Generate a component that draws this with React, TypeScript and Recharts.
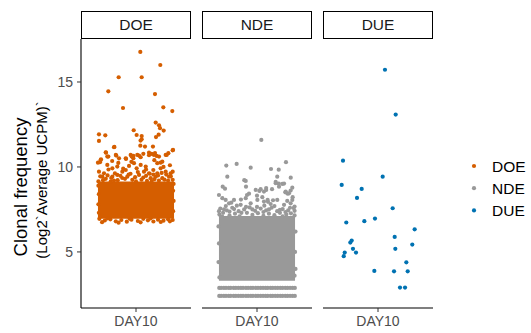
import React from "react";
import { ScatterChart, Scatter, XAxis, YAxis, ReferenceArea } from "recharts";

const timepoints = ["DAY10"];
const groups = ["DOE", "NDE", "DUE"];
const groupColors = ["#D55E00", "#999999", "#0072B2"];
const yTicks = [5, 10, 15];

// [jitter, log2 UCPM]
const doePoints: [number, number][] = [
  [0.047, 16.77], [0.265, 16.0], [-0.189, 15.28], [0.062, 15.28], [-0.302, 14.45], [0.207, 14.29],
  [-0.142, 13.47], [0.298, 13.51], [0.396, 13.29],
  [-0.404, 11.92], [-0.335, 11.86], [-0.404, 11.53], [-0.025, 12.16], [0.007, 11.88], [0.062, 11.82],
  [0.062, 11.63], [0.215, 12.61], [0.251, 12.45], [0.262, 12.28], [0.302, 12.14], [0.247, 11.9], [0.218, 11.76],
  [-0.236, 11.18], [0.047, 11.25], [0.185, 11.2], [0.4, 10.98], [-0.33, 10.86],
  [-0.24, 11.16], [0.05, 11.55], [0.098, 11.2], [0.404, 11.0], [0.335, 10.71], [-0.327, 10.84], [-0.302, 10.61],
  [-0.22, 10.71], [-0.185, 10.51], [-0.385, 10.41], [-0.415, 10.25], [-0.112, 10.51], [-0.058, 10.71],
  [-0.029, 10.51], [0.014, 10.71], [0.051, 10.57], [0.142, 10.84], [0.196, 10.71], [0.251, 10.61],
  [0.287, 10.31], [0.232, 10.22], [-0.313, 10.12], [-0.258, 9.92], [-0.204, 10.02], [-0.149, 9.72],
  [-0.112, 9.82], [-0.076, 10.06], [-0.022, 10.22], [0.007, 9.92], [0.051, 10.12], [0.106, 10.02],
  [0.087, 9.72], [0.142, 9.63], [0.189, 9.82], [0.232, 9.63], [0.269, 9.92], [0.324, 9.72], [0.378, 9.63],
  [0.4, 9.72], [-0.404, 9.72], [-0.367, 9.43], [-0.349, 9.63], [-0.258, 9.43], [-0.204, 9.53], [-0.276, 9.14],
  [-0.095, 9.43], [-0.04, 9.24], [0.033, 9.53], [0.16, 9.34], [0.215, 9.43], [0.287, 9.34], [0.36, 9.43],
  [0.4, 9.24], [-0.382, 10.45], [-0.393, 10.28], [-0.313, 10.61], [-0.215, 10.67], [-0.193, 10.24],
  [-0.109, 10.47], [-0.047, 10.61], [-0.029, 10.65], [0.033, 10.67], [0.08, 10.77], [0.142, 10.69],
  [0.171, 10.77], [0.207, 10.82], [0.225, 10.65], [0.269, 10.25], [0.324, 10.71], [0.353, 10.81],
  [-0.33, 9.3], [-0.15, 9.35], [0.08, 9.38], [0.25, 9.2], [-0.2, 9.22], [0.12, 9.18], [-0.41, 9.15],
  [0.33, 9.55], [-0.06, 9.6], [0.19, 9.55],
  [-0.39, 9.45], [-0.31, 9.5], [-0.27, 9.35], [-0.23, 9.62], [-0.17, 9.48], [-0.12, 9.3], [-0.08, 9.55],
  [-0.01, 9.4], [0.02, 9.7], [0.06, 9.25], [0.11, 9.48], [0.15, 9.6], [0.2, 9.28], [0.24, 9.5], [0.28, 9.65],
  [0.31, 9.25], [0.35, 9.2], [0.38, 9.45], [-0.36, 9.22], [-0.24, 9.2], [0.0, 9.15], [0.17, 9.15],
  [-0.14, 9.9], [0.11, 9.85], [-0.3, 9.85], [0.3, 10.0], [-0.05, 10.3], [0.2, 10.4], [-0.26, 10.35], [0.37, 10.1],
  [-0.4, 6.95], [-0.34, 6.85], [-0.28, 6.92], [-0.22, 6.8], [-0.16, 6.88], [-0.1, 6.78], [-0.05, 6.9],
  [0.02, 6.82], [0.08, 6.95], [0.13, 6.86], [0.19, 6.79], [0.24, 6.9], [0.3, 6.84], [0.35, 6.93], [0.4, 6.88],
  [-0.37, 6.75], [-0.19, 6.72], [0.05, 6.74], [0.27, 6.76], [-0.31, 6.98], [0.16, 6.98], [0.37, 6.8], [-0.07, 6.96],
  [-0.405, 7.3], [-0.41, 7.8], [-0.405, 8.4], [-0.41, 8.9], [0.405, 7.4], [0.41, 8.0], [0.405, 8.6], [0.41, 9.0],
];
const doeCore = [6.95, 9.15];

const ndePoints: [number, number][] = [
  [0.047, 11.59], [-0.335, 10.08], [-0.222, 10.18], [-0.069, 9.96], [0.153, 9.88], [0.237, 9.84], [0.316, 10.28],
  [-0.324, 9.43], [-0.139, 9.22], [0.221, 9.43], [0.368, 9.37], [0.204, 9.12], [0.237, 9.02], [0.295, 9.02],
  [-0.374, 8.84], [-0.349, 8.72], [-0.12, 8.84], [-0.014, 8.65], [0.026, 8.59], [0.1, 8.65], [0.1, 8.76],
  [0.164, 8.69], [0.385, 8.78], [0.367, 8.61], [0.309, 8.51], [0.335, 8.43], [-0.087, 8.43], [-0.109, 8.35],
  [0, 8.31], [0.058, 8.22], [-0.175, 8.08], [0.116, 8.06], [0.175, 8.04], [0.389, 8.22], [0.385, 8.06],
  [-0.123, 9.18], [0.04, 8.69], [0.076, 8.55], [0.204, 9.04], [0.24, 8.84], [0.276, 9.0], [0.313, 8.55],
  [0.349, 8.45], [-0.415, 8.35], [-0.378, 8.16], [-0.342, 8.06], [-0.305, 7.86], [-0.251, 8.06], [-0.178, 7.77],
  [-0.123, 8.16], [-0.069, 7.86], [0.004, 8.06], [0.076, 7.96], [0.149, 7.82], [0.221, 8.06], [0.295, 7.77],
  [0.367, 7.86], [0.41, 7.67],
  [-0.4, 7.55], [-0.33, 7.45], [-0.27, 7.6], [-0.2, 7.4], [-0.14, 7.5], [-0.08, 7.62], [-0.02, 7.42], [0.04, 7.55],
  [0.1, 7.45], [0.16, 7.6], [0.22, 7.4], [0.28, 7.52], [0.34, 7.44], [0.4, 7.58], [-0.37, 7.3], [-0.24, 7.25],
  [-0.11, 7.3], [0.01, 7.28], [0.13, 7.25], [0.25, 7.3], [0.37, 7.27], [-0.3, 7.15], [-0.05, 7.18], [0.19, 7.16],
  [0.32, 7.2], [-0.41, 7.2],
  [-0.415, 7.4], [-0.36, 7.5], [-0.3, 7.38], [-0.25, 7.52], [-0.17, 7.3], [-0.12, 7.65], [-0.05, 7.5], [0.0, 7.65],
  [0.07, 7.35], [0.13, 7.5], [0.19, 7.7], [0.25, 7.48], [0.31, 7.35], [0.36, 7.6], [0.41, 7.42], [-0.34, 7.7],
  [-0.22, 7.72], [0.08, 7.72], [-0.38, 7.08], [-0.19, 7.1], [0.07, 7.12], [0.28, 7.1], [0.41, 7.15],
  [-0.28, 7.9], [0.12, 7.95], [0.33, 8.0],
  [-0.42, 6.5], [-0.415, 5.5], [-0.42, 4.4], [0.42, 6.2], [0.415, 5.0], [0.42, 4.0], [-0.41, 3.5], [0.41, 3.6],
];
const ndeCore = [3.3, 7.12];
const ndeFloorLevels = [2.88, 2.41];
const ndeFloorJitter = [
  -0.412, -0.391, -0.362, -0.338, -0.309, -0.287, -0.255, -0.231, -0.204, -0.176, -0.152, -0.121, -0.097, -0.068,
  -0.044, -0.013, 0.011, 0.039, 0.066, 0.094, 0.117, 0.148, 0.171, 0.199, 0.226, 0.254, 0.279, 0.308, 0.333,
  0.361, 0.388, 0.413,
];

const duePoints: [number, number][] = [
  [0.076, 15.72], [0.193, 13.08], [-0.382, 10.37], [0.051, 9.43], [-0.396, 8.94], [-0.178, 8.71], [-0.229, 8.18],
  [0.16, 7.57], [-0.033, 6.96], [-0.149, 6.81], [-0.346, 6.73], [0.4, 6.33], [0.182, 5.88], [-0.287, 5.67],
  [-0.302, 5.55], [0.374, 5.43], [-0.273, 5.18], [0.189, 5.18], [-0.24, 4.96], [-0.363, 4.96], [-0.374, 4.75],
  [0.309, 4.39], [-0.04, 3.88], [0.175, 3.86], [0.324, 3.86], [0.24, 2.9], [0.295, 2.9],
];

const FONT = "'Liberation Sans', Arial, Helvetica, sans-serif";
const Y_DOMAIN = [1.7, 17.53];

const dot = (color: string) => (p: any) => <circle cx={p.cx} cy={p.cy} r={2.1} fill={color} />;

const YTitle = () => (
  <g>
    <text transform="translate(20,187) rotate(-90)" textAnchor="middle" dominantBaseline="central" fontSize={18.5} fill="#000">
      Clonal frequency
    </text>
    <text transform="translate(41,180) rotate(-90)" textAnchor="middle" dominantBaseline="central" fontSize={15} fill="#000">
      (Log2`Average UCPM)`
    </text>
  </g>
);

const Panel: React.FC<{ idx: number; points: [number, number][]; core?: number[]; left: number; showY?: boolean }> = ({
  idx,
  points,
  core,
  left,
  showY,
}) => {
  const color = groupColors[idx];
  const data = points.map(([j, v]) => ({ x: 1 + j, y: v }));
  const floor =
    idx === 1 ? ndeFloorLevels.flatMap((lv) => ndeFloorJitter.map((j) => ({ x: 1 + j, y: lv }))) : [];
  return (
    <div style={{ position: "absolute", left, top: 0 }}>
      <ScatterChart
        width={showY ? 192 : 112}
        height={333}
        margin={{ top: 39, right: 1, bottom: 0, left: showY ? 0 : 1 }}
      >
        <XAxis
          type="number"
          dataKey="x"
          domain={[0.4, 1.6]}
          allowDataOverflow
          ticks={[1]}
          tickFormatter={(v: number) => timepoints[v - 1]}
          height={25}
          tickSize={4}
          tickMargin={4}
          axisLine={{ stroke: "#000", strokeWidth: 1.1 }}
          tickLine={{ stroke: "#333" }}
          tick={{ fill: "#4D4D4D", fontSize: 14 }}
        />
        <YAxis
          type="number"
          dataKey="y"
          domain={Y_DOMAIN}
          allowDataOverflow
          ticks={yTicks}
          hide={!showY}
          width={81}
          tickSize={4}
          tickMargin={4}
          axisLine={{ stroke: "#000", strokeWidth: 1.1 }}
          tickLine={{ stroke: "#333" }}
          tick={{ fill: "#4D4D4D", fontSize: 14 }}
          label={showY ? { content: () => <YTitle /> } : undefined}
        />
        {core && (
          <ReferenceArea x1={0.585} x2={1.415} y1={core[0]} y2={core[1]} fill={color} fillOpacity={1} stroke="none" />
        )}
        {idx === 1 && <Scatter data={floor} isAnimationActive={false} shape={dot(color)} />}
        <Scatter data={data} isAnimationActive={false} shape={dot(color)} />
      </ScatterChart>
    </div>
  );
};

const stripLefts = [81, 202, 323];

export default function App() {
  return (
    <div style={{ position: "fixed", left: 0, top: 0, width: 531, height: 333, background: "#fff", fontFamily: FONT }}>
      <Panel idx={0} points={doePoints} core={doeCore} left={0} showY />
      <Panel idx={1} points={ndePoints} core={ndeCore} left={201} />
      <Panel idx={2} points={duePoints} left={322} />
      {groups.map((g, i) => (
        <div
          key={g}
          style={{
            position: "absolute",
            left: stripLefts[i],
            top: 11,
            width: 110,
            height: 28,
            boxSizing: "border-box",
            border: "1.2px solid #000",
            display: "flex",
            alignItems: "center",
            justifyContent: "center",
            fontSize: 15.5,
            color: "#1a1a1a",
          }}
        >
          {g}
        </div>
      ))}
      <svg style={{ position: "absolute", left: 460, top: 150 }} width={71} height={75}>
        {groups.map((g, i) => (
          <g key={g}>
            <circle cx={14} cy={16 + i * 22.2} r={2.1} fill={groupColors[i]} />
            <text x={32} y={16 + i * 22.2} dominantBaseline="central" fontSize={15.5} fill="#000">
              {g}
            </text>
          </g>
        ))}
      </svg>
    </div>
  );
}
